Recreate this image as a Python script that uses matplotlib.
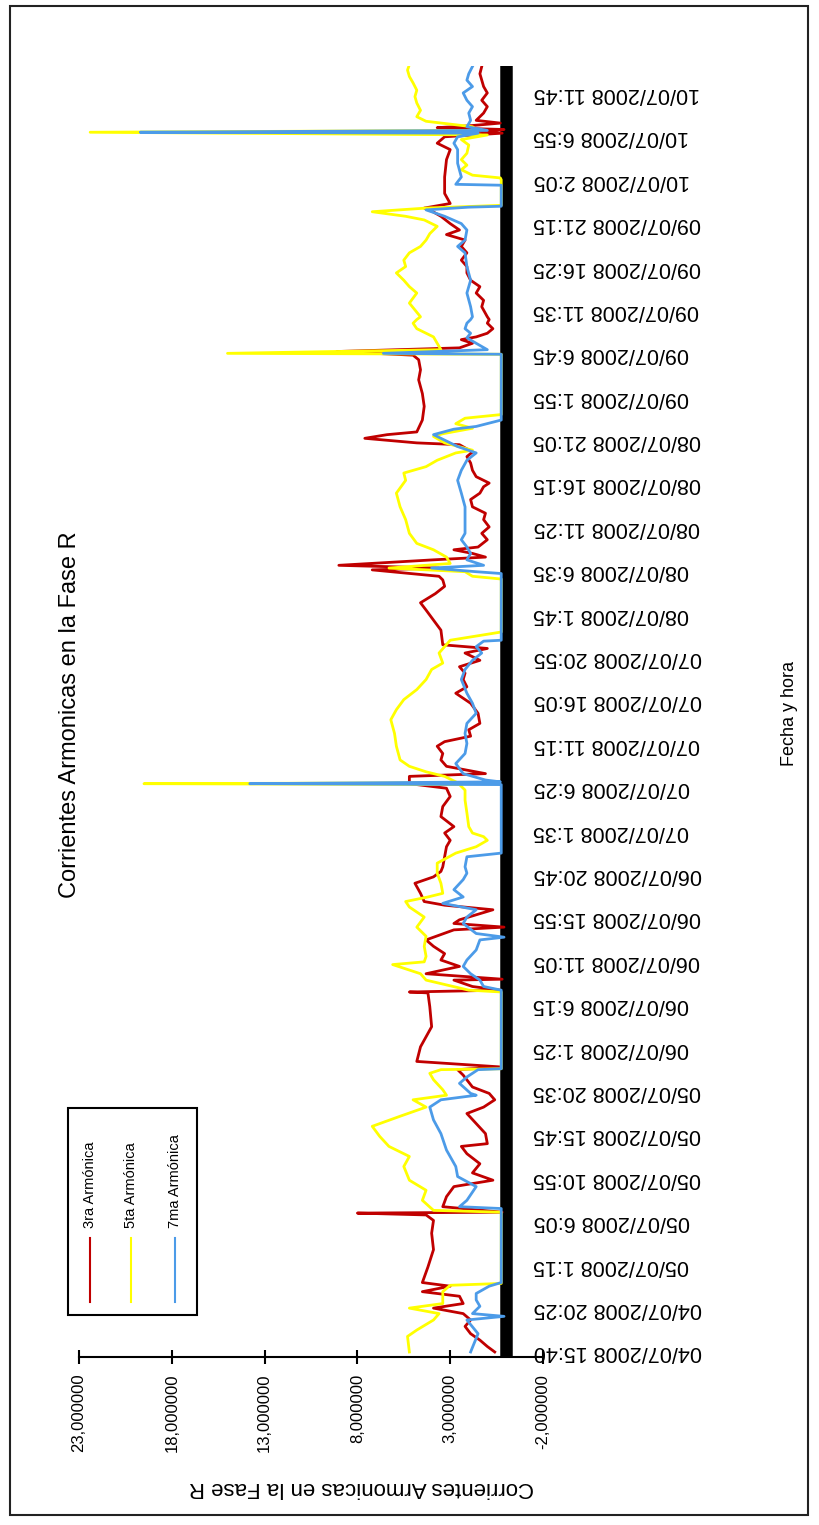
import matplotlib.pyplot as plt
from matplotlib.patches import Rectangle
from matplotlib.lines import Line2D

plt.rcParams['font.family'] = ['Liberation Sans', 'DejaVu Sans']

# horas desde 04/07/2008 15:40 y corriente (A) de cada armonica
t3 = [0.0, 0.6, 1.3, 2.0, 2.8, 3.5, 4.2, 4.8, 5.3, 6.1, 6.6, 7.2, 7.6, 9.3, 11.2, 13.0, 14.4, 15.0, 15.2, 15.3,
      15.9, 17.0, 18.1, 18.8, 19.6, 20.6, 21.7, 22.5, 22.8, 23.9, 25.0, 26.1, 26.8, 27.6,
      28.3, 29.0, 30.3, 30.9, 31.2, 31.8, 33.4, 35.6, 37.8, 39.3, 39.4, 39.6, 40.0, 40.7, 40.8, 41.4,
      42.2, 42.9, 43.6, 44.4, 45.1, 46.2, 46.5, 46.9, 47.3, 48.4, 48.9, 49.3, 50.2, 51.3, 52.0, 52.6,
      53.1, 54.2, 55.3, 56.0,
      56.8, 57.5, 58.6, 59.7, 60.8, 61.7, 62.2, 63.0, 63.3, 64.1, 64.8, 65.5, 66.3, 66.8, 67.4, 68.1,
      68.8, 69.9, 71.0, 72.1, 72.8, 73.6, 74.3, 75.0, 75.7, 76.5, 77.0, 77.4, 79.0, 80.1, 81.2, 82.0,
      83.0, 83.8, 84.5,
      84.9, 85.6, 85.8, 86.1, 86.7, 87.0, 87.4, 87.8, 88.1, 88.9, 89.6, 90.3, 91.1, 91.8, 92.5, 93.3,
      94.0, 94.7, 95.1, 95.8, 96.5, 97.3, 98.0, 98.5, 99.3, 99.5, 100.0, 100.4, 100.7, 102.0, 103.5,
      104.9, 106.4, 107.5, 108.6, 109.1, 109.5, 109.9, 110.4, 110.8, 111.1, 111.5, 112.0, 112.6, 113.0,
      113.3, 114.4, 115.1, 115.9, 116.6, 117.3, 118.1, 118.8, 119.5, 120.3, 121.0, 121.7, 122.3, 122.8,
      123.5, 124.3, 125.0, 125.2, 125.7, 126.8, 128.6, 130.5, 131.6, 132.3, 133.0, 133.4, 133.6, 133.8,
      134.0, 134.2, 134.5, 134.8, 135.6, 136.3, 137.0, 137.8, 138.5, 139.2, 139.9, 140.7]
i3 = [0.6, 1.0, 1.4, 1.9, 2.2, 1.9, 2.3, 3.9, 2.3, 2.5, 4.5, 3.0, 4.5, 4.2, 3.9, 4.0, 3.9, 4.3, 8.0, 0.2,
      3.4, 3.2, 2.8, 0.7, 1.8, 1.4, 2.1, 2.4, 1.0, 1.1, 1.6, 2.1, 1.2, 0.6,
      0.9, 1.8, 2.3, 2.6, 0.3, 4.8, 4.6, 4.0, 4.1, 4.2, 5.2, 0.3, 1.8, 2.8, 0.2, 4.3,
      2.5, 3.5, 3.3, 3.9, 4.3, 2.8, 0.1, 2.8, 2.5, 0.7, 3.3, 4.4, 4.6, 4.9, 3.9, 3.5,
      3.4, 3.3, 3.2, 3.0,
      3.3, 2.8, 3.5, 3.4, 3.0, 3.2, 5.2, 5.2, 1.1, 3.2, 3.5, 3.4, 3.7, 3.3, 1.9, 2.0,
      1.4, 1.5, 1.9, 2.7, 2.1, 2.3, 2.2, 2.5, 1.4, 2.2, 1.0, 3.4, 3.5, 3.9, 4.3, 4.6,
      3.8, 3.3, 3.4,
      3.6, 7.2, 3.6, 9.0, 3.9, 1.1, 1.8, 2.8, 1.5, 1.0, 1.3, 0.9, 1.2, 1.1, 1.8, 1.9,
      1.4, 1.2, 0.9, 1.6, 1.8, 1.9, 2.1, 1.8, 2.5, 4.8, 7.6, 6.4, 4.8, 4.5, 4.4,
      4.5, 4.7, 4.6, 4.7, 5.0, 9.1, 2.5, 1.8, 2.4, 1.6, 1.0, 0.7, 1.0, 0.9,
      1.0, 1.3, 1.2, 1.6, 1.4, 1.9, 2.1, 2.1, 2.4, 2.1, 2.4, 2.2, 3.2, 2.5,
      3.0, 3.5, 4.1, 4.4, 3.0, 3.3, 3.3, 3.2, 3.0, 3.7, 3.3, 0.2, 1.5, 0.1,
      3.7, 2.0, 0.3, 1.6, 1.2, 1.0, 1.3, 1.0, 1.2, 1.3, 1.4, 1.3]

t5 = [0.0, 1.7, 2.4, 3.5, 4.2, 4.8, 5.3, 6.6, 7.3, 7.5, 15.3, 15.5, 16.6, 17.7, 18.8, 20.3, 21.4,
      22.5, 23.6, 24.7, 25.8, 26.8, 27.6,
      28.1, 28.7, 29.8, 30.5, 30.9, 31.0, 39.4, 39.6, 40.7, 41.4, 42.4, 42.7, 43.3, 44.4, 45.5,
      46.5, 47.6, 48.7, 49.3, 49.8, 50.2, 51.3, 52.4, 53.5, 54.6, 55.3, 56.0,
      56.4, 56.8, 57.5, 59.0, 60.4, 61.5, 62.1, 62.2, 62.3, 63.0, 63.5, 64.1, 64.8, 66.3, 67.7,
      69.2, 70.3, 71.4, 72.5, 73.6, 74.7, 75.4, 76.5, 77.2, 77.9, 78.8, 84.6,
      84.9, 85.4, 85.8, 86.3, 87.0, 87.8, 88.5, 89.6, 91.1, 92.5, 94.0, 95.4, 96.2, 96.9, 97.6,
      98.4, 98.7, 99.5, 100.2, 100.5, 101.1, 101.6, 102.2, 102.6, 109.2, 109.3, 109.7, 110.4,
      111.1, 111.5, 112.0, 112.6, 113.0,
      113.3, 114.8, 115.9, 116.6, 117.3, 118.1, 118.8, 119.5, 120.3, 121.0, 121.7, 122.4, 123.2,
      123.9, 124.3, 124.8, 125.2, 125.5, 128.3, 128.5, 128.8, 129.4, 129.9, 130.5, 131.2, 132.1,
      132.7, 133.2, 133.5, 133.7, 134.1, 134.7, 135.2, 135.9, 136.7, 137.4, 138.1, 138.9, 139.6,
      140.3, 140.9]
i5 = [5.2, 5.3, 4.8, 3.9, 3.6, 5.2, 3.4, 3.4, 3.0, 0.25, 0.25, 3.9, 4.5, 4.3, 5.2, 5.5, 5.2,
      6.3, 6.8, 7.2, 5.7, 4.3, 5.0,
      3.2, 3.4, 3.9, 4.1, 3.5, 0.25, 0.25, 2.0, 4.3, 4.6, 6.1, 4.4, 4.3, 4.4, 4.3,
      4.8, 4.4, 5.2, 5.4, 4.2, 3.4, 3.5, 3.7, 3.7, 2.7, 1.6, 1.0,
      1.2, 1.8, 2.0, 2.1, 2.2, 2.2, 2.5, 19.5, 2.6, 3.3, 4.3, 5.2, 5.7, 5.9, 6.0,
      6.2, 5.9, 5.5, 4.8, 4.3, 4.0, 3.4, 3.6, 3.3, 3.0, 0.25, 0.25,
      1.8, 2.2, 6.3, 3.0, 3.2, 3.9, 4.8, 5.2, 5.4, 5.7, 5.9, 5.4, 5.5, 4.3, 3.7,
      2.7, 1.8, 3.3, 3.9, 3.4, 1.8, 2.7, 2.2, 0.25, 0.25, 15.0, 3.5, 3.7,
      3.9, 4.3, 4.8, 5.0, 4.8,
      4.6, 5.2, 4.8, 5.2, 5.5, 5.9, 5.4, 5.5, 5.2, 4.6, 4.3, 4.1, 3.7,
      4.4, 5.4, 7.2, 4.3, 0.25, 0.25, 0.3, 1.8, 2.4, 2.1, 2.4, 2.1, 2.0,
      2.4, 1.0, 22.4, 1.5, 1.8, 4.3, 4.8, 4.6, 4.8, 4.9, 4.8, 5.0, 5.2,
      5.3, 5.2]

t7 = [0.0, 2.0, 3.5, 3.9, 4.2, 5.0, 5.7, 6.4, 7.2, 7.6, 15.7, 15.9, 16.6, 18.1, 19.2, 20.3, 22.1,
      23.9, 25.4, 26.8, 27.6,
      28.1, 28.3, 29.4, 30.1, 30.9, 31.0, 39.6, 40.0, 40.7, 41.4, 42.2, 42.9, 44.0, 45.1, 45.4,
      45.8, 46.9, 47.6, 48.4, 49.1, 49.8, 50.6, 51.7, 52.4, 53.1, 54.2, 54.6,
      62.1, 62.2, 62.4, 62.6, 63.3, 64.4, 65.5, 66.6, 67.7, 68.8, 69.9, 71.0, 72.1, 73.6, 74.7,
      75.7, 76.5, 77.2, 77.8, 77.9, 85.2,
      85.4, 85.8, 86.1, 86.7, 87.4, 88.1, 88.9, 89.6, 91.1, 92.5, 94.0, 95.4, 96.5, 97.6, 98.4,
      99.1, 99.8, 100.4, 101.0, 101.3, 102.0, 109.2, 109.3, 109.7, 110.4, 111.0, 111.5, 112.0,
      112.6, 113.0,
      113.3, 114.4, 115.9, 117.3, 118.8, 120.3, 121.0, 121.7, 122.8, 123.5, 124.3, 125.0, 125.3,
      125.4, 127.7, 127.8, 128.6, 130.1, 131.6, 132.3, 133.0, 133.4, 133.5, 133.7, 134.1, 134.8,
      135.6, 136.3, 137.0, 137.8, 138.5, 139.2, 139.9, 140.7]
i7 = [1.9, 1.5, 2.1, 0.1, 1.8, 1.4, 1.6, 1.6, 0.9, 0.25, 0.25, 2.5, 2.1, 1.6, 2.6, 2.7, 3.2,
      3.5, 3.9, 4.1, 3.5,
      1.6, 1.9, 2.5, 2.1, 1.5, 0.25, 0.25, 1.2, 1.4, 1.9, 2.3, 2.1, 1.6, 1.4, 0.1,
      1.6, 2.3, 2.1, 1.6, 3.4, 2.3, 2.8, 2.3, 2.1, 2.2, 2.1, 0.25,
      0.25, 13.8, 0.3, 1.1, 2.3, 2.7, 2.2, 2.1, 2.2, 2.1, 1.6, 1.8, 2.1, 2.4, 2.2,
      1.8, 1.3, 1.6, 1.2, 0.25, 0.25,
      1.6, 4.0, 1.2, 2.1, 1.9, 2.1, 2.4, 2.2, 2.2, 2.2, 2.4, 2.6, 2.4, 2.1, 1.6,
      2.6, 3.3, 3.9, 2.8, 1.6, 0.25, 0.25, 6.6, 1.0, 1.6, 2.1, 1.9, 2.2,
      2.1, 1.9,
      1.8, 1.9, 2.1, 1.9, 2.1, 2.2, 2.6, 2.2, 2.1, 2.4, 3.3, 4.3, 2.0,
      0.25, 0.25, 2.7, 2.4, 2.6, 2.6, 2.8, 2.6, 1.5, 19.7, 1.0, 2.1, 1.9,
      2.0, 1.8, 2.1, 2.3, 1.8, 2.1, 2.0, 1.8]

fechas = ["04/07/2008 15:40", "04/07/2008 20:25", "05/07/2008 1:15", "05/07/2008 6:05",
          "05/07/2008 10:55", "05/07/2008 15:45", "05/07/2008 20:35", "06/07/2008 1:25",
          "06/07/2008 6:15", "06/07/2008 11:05", "06/07/2008 15:55", "06/07/2008 20:45",
          "07/07/2008 1:35", "07/07/2008 6:25", "07/07/2008 11:15", "07/07/2008 16:05",
          "07/07/2008 20:55", "08/07/2008 1:45", "08/07/2008 6:35", "08/07/2008 11:25",
          "08/07/2008 16:15", "08/07/2008 21:05", "09/07/2008 1:55", "09/07/2008 6:45",
          "09/07/2008 11:35", "09/07/2008 16:25", "09/07/2008 21:15", "10/07/2008 2:05",
          "10/07/2008 6:55", "10/07/2008 11:45"]
paso = 4.75  # horas entre etiquetas del eje de fechas

valores = [23, 18, 13, 8, 3, -2]
series = ["3ra Armónica", "5ta Armónica", "7ma Armónica"]
colores = ["#C00000", "#FFFF00", "#4C9BE8"]

W, H = 819, 1525
fig = plt.figure(figsize=(W / 100, H / 100), dpi=100)

# grafico girado: fechas en vertical, corriente en horizontal (crece hacia la izquierda)
ax = fig.add_axes([79 / W, 168 / H, 464 / W, 1291 / H])
ax.axvline(0, color="black", lw=9, zorder=1)
for t, i, c in zip([t3, t5, t7], [i3, i5, i7], colores):
    ax.plot(i, t, color=c, lw=2.0, zorder=3)

ax.set_xlim(23, -2)
ax.set_ylim(-0.55, 140.75)
for s in ["top", "left", "right"]:
    ax.spines[s].set_visible(False)
ax.spines["bottom"].set_linewidth(1.5)

ax.set_xticks(valores)
ax.set_xticklabels([f"{v:,.6f}".replace(".", ",") for v in valores], rotation=90)
ax.tick_params(axis="x", direction="inout", length=10, width=1.5, labelsize=12, pad=7)

ax.yaxis.tick_right()
ax.set_yticks([k * paso for k in range(len(fechas))])
ax.set_yticklabels(fechas, rotation=180, va="center")
ax.tick_params(axis="y", length=0, labelsize=15.5, pad=-7)

fig.text(70 / W, 1 - 715 / H, "Corrientes Armonicas en la Fase R", rotation=90,
         ha="center", va="center", fontsize=17)
fig.text(361 / W, 1 - 1488 / H, "Corrientes Armonicas en la Fase R", rotation=180,
         ha="center", va="center", fontsize=16)
fig.text(790 / W, 1 - 713 / H, "Fecha y hora", rotation=90,
         ha="center", va="center", fontsize=13)

# leyenda dibujada a mano (texto vertical)
fig.add_artist(Rectangle((68 / W, 1 - 1315 / H), 129 / W, 207 / H, transform=fig.transFigure,
                         fill=False, edgecolor="black", lw=1.5))
for x, nombre, c in zip([90, 131, 175], series, colores):
    fig.add_artist(Line2D([x / W, x / W], [1 - 1302 / H, 1 - 1238 / H],
                          transform=fig.transFigure, color=c, lw=1.5))
    fig.text(x / W, 1 - 1228 / H, nombre, rotation=90, ha="center", va="bottom", fontsize=10.5)

# marco exterior
fig.add_artist(Rectangle((10 / W, 10 / H), 798 / W, 1509 / H, transform=fig.transFigure,
                         fill=False, edgecolor="#222222", lw=1.5))

fig.savefig("out.png", dpi=100)
